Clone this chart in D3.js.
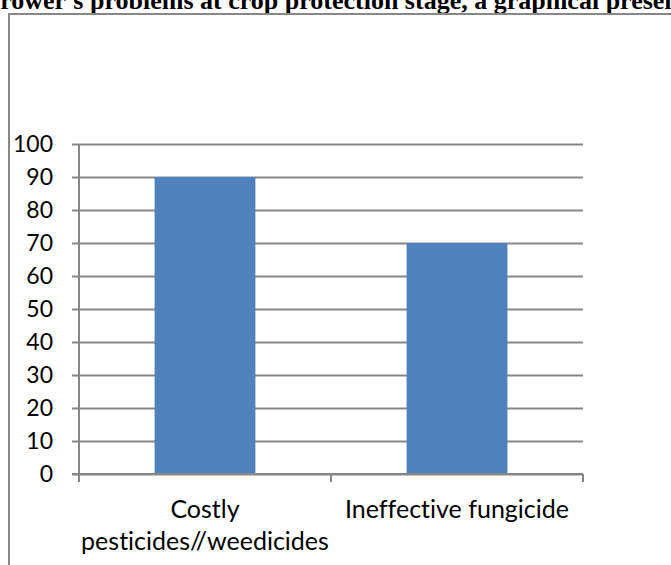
<!DOCTYPE html>
<html>
<head>
<meta charset="utf-8">
<script src="https://cdn.jsdelivr.net/npm/d3@7"></script>
<style>
  body { margin: 0; background: #fff; overflow: hidden; }
  svg { display: block; }
  text { font-variant-ligatures: none; }
</style>
</head>
<body>
<div id="chart"></div>
<script>
// data
const categories = ["Costly pesticides//weedicides", "Ineffective fungicide"]
const catLines = [["Costly", "pesticides//weedicides"], ["Ineffective fungicide"]]
const values = [90, 70]
const yTicks = [0, 10, 20, 30, 40, 50, 60, 70, 80, 90, 100]
const titleText = "Grower's problems at crop protection stage, a graphical presentation"

const W = 671, H = 565
const PLOT = { LEFT: 79, RIGHT: 583, TOP: 144, BOTTOM: 474 }
const GRID = "#878787"
const FONT = "Lato, 'Open Sans', sans-serif"

const svg = d3.select("#chart").append("svg")
  .attr("width", W)
  .attr("height", H)

// title, cut at both sides like the scan
svg.append("text")
  .attr("x", -20)
  .attr("y", 8.5)
  .attr("font-family", "'Liberation Serif', 'Times New Roman', serif")
  .attr("font-weight", "bold")
  .attr("font-size", "26px")
  .attr("fill", "#000")
  .text(titleText)

// outer chart frame (right and bottom edges fall outside the picture)
svg.append("rect")
  .attr("x", 9)
  .attr("y", 14)
  .attr("width", W + 20)
  .attr("height", H + 20)
  .attr("fill", "none")
  .attr("stroke", GRID)
  .attr("stroke-width", 2)

// scales
const x = d3.scaleBand()
  .domain(categories)
  .range([PLOT.LEFT, PLOT.RIGHT])
  .paddingInner(0.6)
  .paddingOuter(0.3)
const y = d3.scaleLinear()
  .domain([0, 100])
  .range([PLOT.BOTTOM, PLOT.TOP])

// gridlines + y ticks
const yAxis = d3.axisLeft(y)
  .tickValues(yTicks)
  .tickSize(-(PLOT.RIGHT - PLOT.LEFT))
  .tickFormat("")
svg.append("g")
  .attr("transform", `translate(${PLOT.LEFT},0)`)
  .call(yAxis)
  .call(g => g.select(".domain").remove())
  .call(g => g.selectAll(".tick line")
    .attr("x1", -7)
    .attr("stroke", GRID)
    .attr("stroke-width", 2))

// y tick labels
svg.append("g").selectAll("text")
  .data(yTicks)
  .join("text")
  .attr("x", 53)
  .attr("y", d => y(d) + 8.2)
  .attr("text-anchor", "end")
  .attr("font-family", FONT)
  .attr("font-size", "23px")
  .attr("fill", "#000")
  .text(d => d)

// bars
svg.append("g").selectAll("rect")
  .data(values)
  .join("rect")
  .attr("x", (d, i) => x(categories[i]))
  .attr("y", d => y(d))
  .attr("width", x.bandwidth())
  .attr("height", d => y(0) - y(d))
  .attr("fill", "#4F81BD")

// y axis line
svg.append("line")
  .attr("x1", PLOT.LEFT).attr("x2", PLOT.LEFT)
  .attr("y1", y(100)).attr("y2", y(0))
  .attr("stroke", GRID)
  .attr("stroke-width", 2)

// x axis line
svg.append("line")
  .attr("x1", PLOT.LEFT - 7).attr("x2", PLOT.RIGHT)
  .attr("y1", y(0)).attr("y2", y(0))
  .attr("stroke", GRID)
  .attr("stroke-width", 2)

// category boundary ticks
const half = x.step() * x.paddingInner() / 2
const bounds = categories.map(c => x(c) - half)
  .concat([x(categories[categories.length - 1]) + x.bandwidth() + half])
svg.append("g").selectAll("line")
  .data(bounds)
  .join("line")
  .attr("x1", d => d).attr("x2", d => d)
  .attr("y1", y(0)).attr("y2", y(0) + 8)
  .attr("stroke", GRID)
  .attr("stroke-width", 2)

// category labels
const lab = svg.append("g").selectAll("text")
  .data(categories)
  .join("text")
  .attr("text-anchor", "middle")
  .attr("font-family", FONT)
  .attr("font-size", "25px")
  .attr("fill", "#000")
lab.selectAll("tspan")
  .data((d, i) => catLines[i].map(t => ({ t, c: d })))
  .join("tspan")
  .attr("x", d => x(d.c) + x.bandwidth() / 2)
  .attr("y", (d, j) => 518 + j * 32)
  .text(d => d.t)
</script>
</body>
</html>
